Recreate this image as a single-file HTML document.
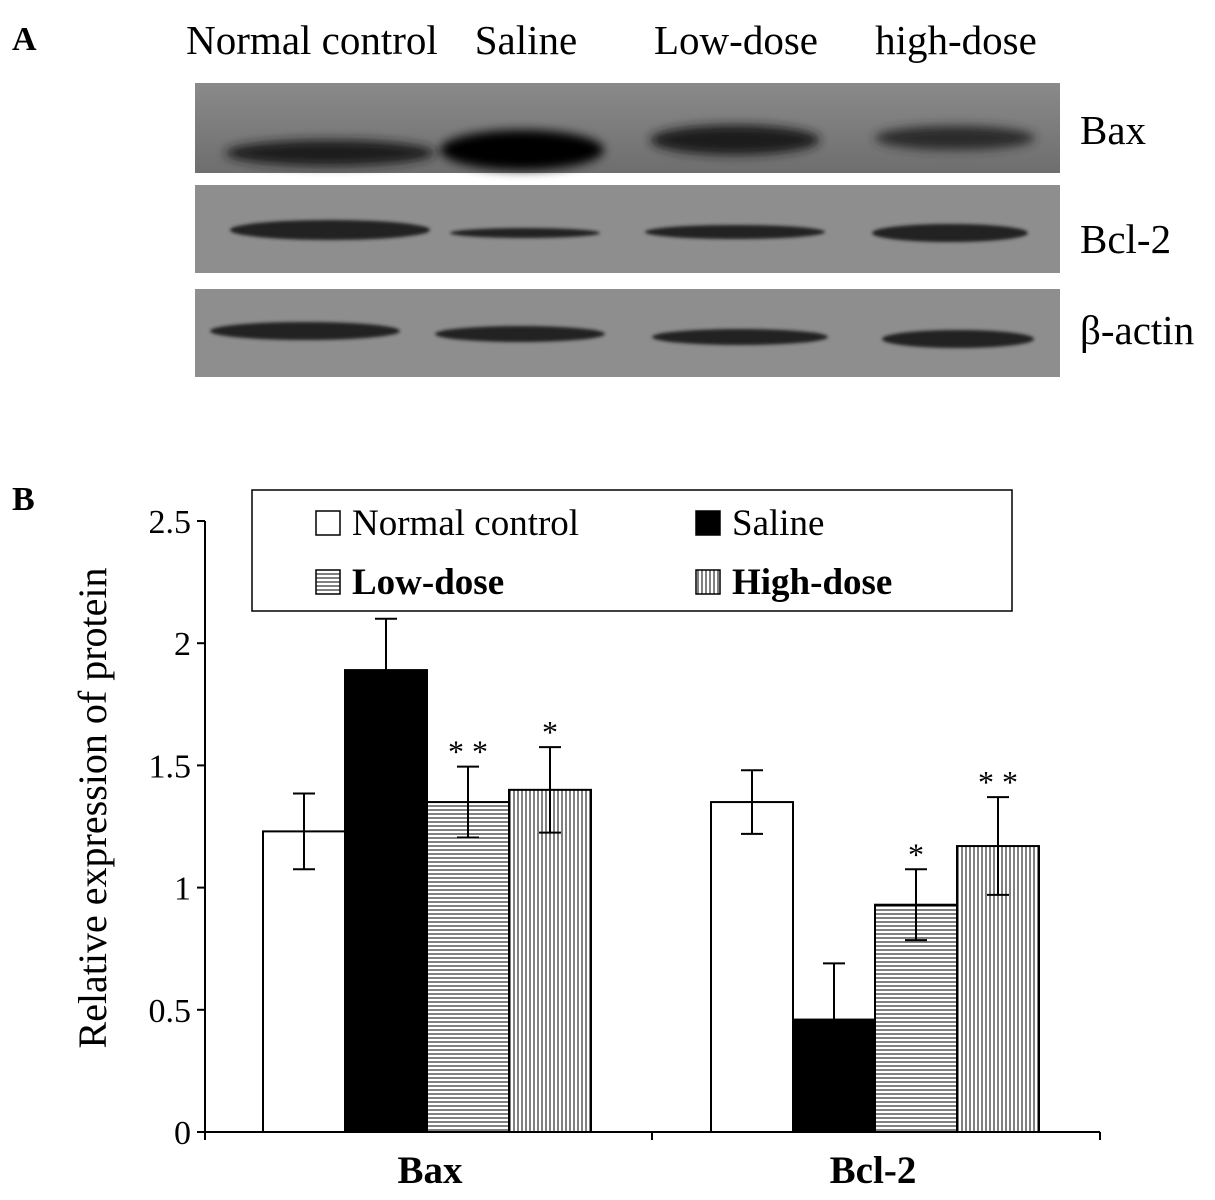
<!DOCTYPE html>
<html><head><meta charset="utf-8"><style>
html,body{margin:0;padding:0;background:#fff;}
svg{display:block;font-family:"Liberation Serif",serif;}
</style></head><body>
<svg width="1215" height="1200" viewBox="0 0 1215 1200">
<defs>
<pattern id="hpat" width="4" height="4" patternUnits="userSpaceOnUse"><rect width="4" height="4" fill="#fff"/><line x1="0" y1="2" x2="4" y2="2" stroke="#000" stroke-width="1"/></pattern>
<pattern id="vpat" width="4" height="4" patternUnits="userSpaceOnUse"><rect width="4" height="4" fill="#fff"/><line x1="2" y1="0" x2="2" y2="4" stroke="#000" stroke-width="1"/></pattern>
<filter id="blur" x="-20%" y="-50%" width="140%" height="200%"><feGaussianBlur stdDeviation="5"/></filter>
<filter id="blur2" x="-20%" y="-50%" width="140%" height="200%"><feGaussianBlur stdDeviation="1.5"/></filter>
<linearGradient id="baxbg" x1="0" y1="0" x2="0" y2="1"><stop offset="0" stop-color="#8a8a8a"/><stop offset="1" stop-color="#6e6e6e"/></linearGradient>
</defs>
<text x="12" y="50" font-size="34" font-weight="bold">A</text>
<g font-size="41">
<text x="312" y="54" text-anchor="middle">Normal control</text>
<text x="526" y="54" text-anchor="middle">Saline</text>
<text x="736" y="54" text-anchor="middle">Low-dose</text>
<text x="956" y="54" text-anchor="middle">high-dose</text>
</g>
<g>
<rect x="195" y="83" width="865" height="90" fill="url(#baxbg)"/>
<g filter="url(#blur)" fill="#1a1a1a">
<ellipse cx="330" cy="153" rx="105" ry="13"/>
<ellipse cx="522" cy="150" rx="82" ry="20" fill="#000"/>
<ellipse cx="735" cy="140" rx="85" ry="15"/>
<ellipse cx="955" cy="138" rx="80" ry="12" fill="#2a2a2a"/>
</g></g>
<g>
<rect x="195" y="185" width="865" height="88" fill="#8e8e8e"/>
<g filter="url(#blur2)" fill="#222">
<ellipse cx="330" cy="230" rx="100" ry="10"/>
<ellipse cx="525" cy="233" rx="75" ry="5"/>
<ellipse cx="735" cy="232" rx="90" ry="7"/>
<ellipse cx="950" cy="233" rx="78" ry="9"/>
</g></g>
<g>
<rect x="195" y="289" width="865" height="88" fill="#8e8e8e"/>
<g filter="url(#blur2)" fill="#222">
<ellipse cx="305" cy="331" rx="95" ry="9"/>
<ellipse cx="520" cy="334" rx="85" ry="8"/>
<ellipse cx="740" cy="337" rx="88" ry="8"/>
<ellipse cx="958" cy="339" rx="76" ry="9"/>
</g></g>
<g font-size="41">
<text x="1080" y="144">Bax</text>
<text x="1080" y="253">Bcl-2</text>
<text x="1080" y="344">β-actin</text>
</g>
<text x="12" y="510" font-size="34" font-weight="bold">B</text>
<g id="chart"></g>
</svg>
<script>
const groups = ['Bax','Bcl-2'];
const seriesNames = ['Normal control','Saline','Low-dose','High-dose'];
const baxValues = [1.23, 1.89, 1.35, 1.40];
const baxErrors = [0.155, 0.21, 0.145, 0.175];
const bcl2Values = [1.35, 0.46, 0.93, 1.17];
const bcl2Errors = [0.13, 0.23, 0.145, 0.2];
const baxStars = ['', '', '**', '*'];
const bcl2Stars = ['', '', '*', '**'];
const yTicks = [0, 0.5, 1, 1.5, 2, 2.5];
const yTickLabels = ['0','0.5','1','1.5','2','2.5'];

const NS='http://www.w3.org/2000/svg';
const g=document.getElementById('chart');
const x0=205, x1=1100, yBase=1132, yTop=521, yMax=2.5;
const y=v=>yBase-(v/yMax)*(yBase-yTop);
const groupStart=[263,711], barW=82;
const fills=['#fff','#000','url(#hpat)','url(#vpat)'];
function mk(tag,attrs,parent){const e=document.createElementNS(NS,tag);for(const k in attrs)e.setAttribute(k,attrs[k]);(parent||g).appendChild(e);return e;}

let ax=mk('line',{x1:x0,y1:yTop,x2:x0,y2:yBase,stroke:'#000','stroke-width':2});


ax=mk('line',{x1:x0,y1:yBase,x2:x1,y2:yBase,stroke:'#000','stroke-width':2});


yTicks.forEach((t,i)=>{
  const l=mk('line',{x1:x0-8,x2:x0,y1:y(t),y2:y(t),stroke:'#000','stroke-width':2});
  
  
  const tx=mk('text',{x:x0-14,y:y(t)+12,'text-anchor':'end','font-size':34});
  tx.textContent=yTickLabels[i];
  
  
});
[x0,652,x1].forEach(xx=>{
  const l=mk('line',{x1:xx,x2:xx,y1:yBase,y2:yBase+8,stroke:'#000','stroke-width':2});
  
  
});
const yt=mk('text',{x:0,y:0,'font-size':40,'text-anchor':'middle',transform:'translate(106 808) rotate(-90)'});
yt.textContent='Relative expression of protein';



const vals=[baxValues,bcl2Values], errs=[baxErrors,bcl2Errors], stars=[baxStars,bcl2Stars];
groups.forEach((gn,gi)=>{
  vals[gi].forEach((v,si)=>{
    const bx=groupStart[gi]+si*barW;
    const r=mk('rect',{x:bx,y:y(v),width:barW,height:yBase-y(v),fill:fills[si],stroke:'#000','stroke-width':2});
    
    
    const cx=bx+barW/2, e=errs[gi][si];
    const lo = si===1 ? v : v-e;
    const eb=mk('path',{d:`M${cx} ${y(v+e)}V${y(lo)}M${cx-11} ${y(v+e)}H${cx+11}`+(si===1?'':`M${cx-11} ${y(v-e)}H${cx+11}`),stroke:'#000','stroke-width':2,fill:'none'});
    
    
    if(stars[gi][si]){
      const st=mk('text',{x:cx,y:y(v+e)-4,'text-anchor':'middle','font-size':32});
      st.textContent=stars[gi][si].split('').join(' ');
      
      
    }
  });
  const lab=mk('text',{x:gi===0?430:873,y:1183,'font-size':39,'font-weight':'bold','text-anchor':'middle'});
  lab.textContent=gn;
  
  
});

const lg=mk('rect',{x:252,y:490,width:760,height:121,fill:'#fff',stroke:'#000','stroke-width':1.5});


const lpos=[[316,523],[696,523],[316,582],[696,582]];
seriesNames.forEach((n,i)=>{
  const sw=mk('rect',{x:lpos[i][0],y:lpos[i][1]-12,width:24,height:24,fill:fills[i],stroke:'#000','stroke-width':1.5});
  
  
  const t=mk('text',{x:lpos[i][0]+36,y:lpos[i][1]+12,'font-size':37,'font-weight':i>=2?'bold':'normal'});
  t.textContent=n;
  
  
});
</script>
</body></html>
